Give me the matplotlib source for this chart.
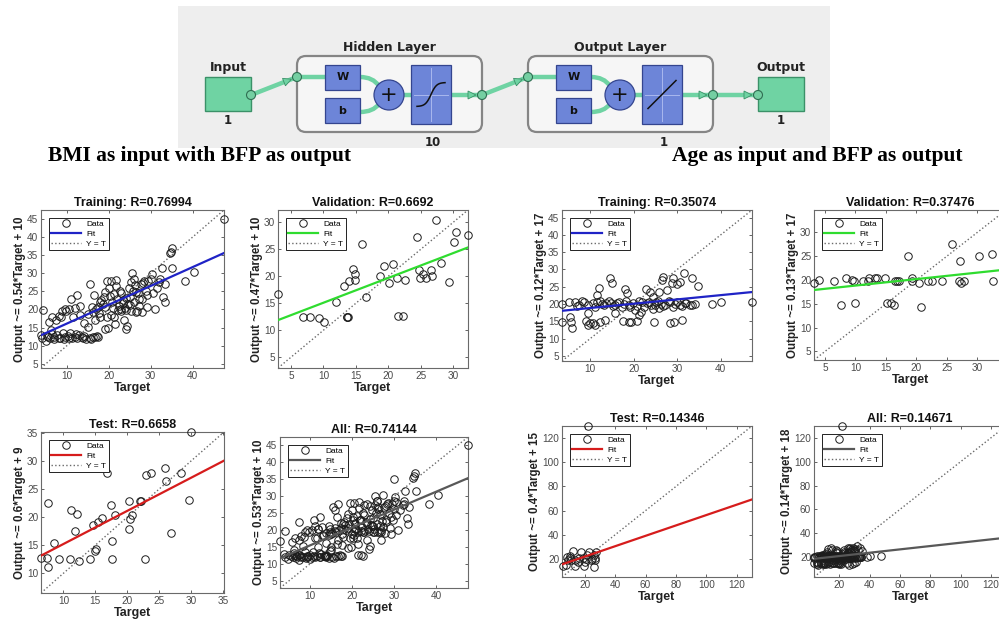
import numpy as np
import matplotlib
matplotlib.use("Agg")
import matplotlib.pyplot as plt
from matplotlib.patches import Rectangle, FancyBboxPatch, Circle, Polygon, PathPatch
from matplotlib.path import Path
from matplotlib.ticker import MultipleLocator

# ---- BMI -> BFP network ----
bmi_train_t = [47.5, 4.2, 3.9, 4.1, 5.0, 5.5, 6.0, 6.4, 6.5, 7.5, 8.0, 8.6, 8.9, 9.5, 9.8, 7.0, 8.0, 9.2, 9.0, 10.2, 10.5, 10.8, 5.8, 6.2,
               10.5, 11.0, 11.4, 12.0, 12.5, 13.0, 13.2, 11.8, 12.4, 12.8, 13.5, 14.0, 14.6, 15.4, 16.3, 17.2, 17.5,
               14.0, 15.0, 15.5, 16.0, 16.5, 17.0, 17.6, 18.0, 18.5, 18.8, 19.1, 19.5, 19.8, 19.2, 17.8, 16.8, 15.0,
               20.0, 20.5, 20.8, 21.0, 21.3, 21.5, 21.8, 22.0, 22.4, 22.8, 23.0, 23.3, 23.6, 24.0, 24.4, 24.8, 25.0, 25.2, 25.6, 26.0,
               26.0, 26.4, 26.8, 27.0, 27.3, 27.6, 28.0, 28.5, 28.8, 29.0, 29.4, 30.0, 30.3, 30.5, 21.6, 22.6, 23.8, 24.6, 25.8, 27.8,
               31.0, 31.5, 32.0, 32.3, 32.6, 33.0, 33.3, 33.5, 34.5, 34.8, 35.0, 35.2, 38.2, 40.3,
               18.2, 19.0, 20.2, 21.2, 22.2, 23.5, 24.2, 25.4, 26.2, 27.2, 28.2, 29.2, 20.6, 22.8, 24.0, 25.0, 26.6, 19.6, 17.4, 16.2,
               5.2, 6.8, 7.6, 8.4, 9.6, 11.2, 12.2, 13.8, 15.8, 16.8]
bmi_train_y = [45.0, 19.8, 12.9, 12.2, 11.4, 12.5, 12.0, 13.2, 17.8, 17.0, 18.2, 18.0, 19.5, 20.0, 19.6, 12.4, 12.2, 11.8, 13.5, 12.6, 12.2, 13.6, 16.5, 14.2,
               20.0, 23.0, 17.8, 20.5, 24.0, 21.0, 18.5, 12.4, 12.0, 13.0, 12.5, 12.6, 11.8, 12.2, 12.5, 12.6, 12.4,
               16.2, 18.8, 27.0, 20.8, 24.0, 20.0, 19.0, 18.0, 21.5, 23.5, 24.8, 28.0, 15.0, 14.7, 22.0, 17.0, 15.2,
               26.0, 28.0, 22.0, 20.5, 17.8, 16.0, 28.2, 23.0, 21.0, 19.5, 24.5, 22.5, 17.2, 14.5, 15.5, 26.0, 23.5, 19.5, 30.0, 28.5,
               22.0, 19.4, 19.6, 24.5, 21.0, 27.0, 23.0, 28.0, 25.0, 20.8, 27.8, 28.5, 29.8, 24.5, 26.5, 25.2, 20.5, 21.5, 25.2, 19.2,
               20.2, 26.0, 27.5, 28.5, 31.5, 23.5, 22.0, 27.0, 35.5, 36.0, 37.0, 31.5, 27.8, 30.3,
               22.5, 20.8, 23.8, 24.2, 19.8, 21.8, 23.2, 27.5, 26.8, 22.8, 27.2, 24.0, 18.5, 20.2, 19.8, 21.2, 24.8, 17.8, 20.6, 19.4,
               12.6, 11.8, 12.8, 12.0, 12.4, 12.0, 13.2, 12.2, 11.8, 12.4]

bmi_val_t = [3.0, 6.9, 8.0, 9.3, 10.1, 12.0, 13.2, 13.7, 13.7, 13.8, 14.0, 14.6, 14.9, 14.9, 16.0, 16.6, 18.7, 19.3,
             20.1, 20.8, 21.4, 21.5, 22.2, 22.6, 24.4, 24.8, 24.9, 25.3, 25.9, 26.6, 26.8, 27.3, 28.1, 29.3, 30.1, 30.4, 32.3]
bmi_val_y = [16.8, 12.5, 12.5, 12.2, 11.5, 15.2, 18.2, 12.5, 12.5, 12.5, 19.2, 21.3, 20.4, 19.4, 26.0, 16.1, 20.1, 22.0,
             18.8, 22.3, 19.6, 12.6, 12.7, 19.4, 27.3, 21.2, 19.6, 20.4, 19.6, 21.2, 20.1, 30.4, 22.4, 19.0, 26.3, 28.3, 27.7]

bmi_test_t = [6.5, 7.4, 7.6, 7.6, 8.5, 9.3, 11.0, 11.2, 11.8, 12.1, 12.5, 14.1, 14.7, 14.9, 15.1, 15.4, 16.0, 16.8, 17.5,
              17.6, 17.6, 18.1, 20.3, 20.3, 20.4, 20.8, 22.0, 22.2, 22.7, 22.9, 23.7, 25.9, 26.1, 26.8, 28.4, 29.7, 29.9]
bmi_test_y = [12.7, 12.7, 11.2, 22.4, 15.4, 12.5, 12.5, 21.3, 17.6, 20.5, 12.1, 12.5, 18.5, 14.0, 14.3, 19.1, 19.9, 27.8, 22.2,
              15.8, 12.5, 20.3, 22.9, 17.8, 19.7, 20.3, 22.9, 22.9, 12.5, 27.5, 27.8, 28.7, 26.4, 17.2, 27.8, 23.1, 35.1]

# ---- Age -> BFP network ----
age_train_t = [6.6, 7.5, 8.5, 9.4, 10.6, 11.5, 12.7, 13.7, 14.7, 15.7, 16.7, 17.8, 18.8, 19.9, 20.8, 21.8, 23.0, 23.9,
               25.1, 26.2, 27.2, 28.3, 29.5, 30.6, 31.8, 32.9,
               7.0, 8.0, 11.0, 12.2, 13.2, 14.2, 15.2, 16.2, 17.2, 18.2, 19.2, 20.4, 21.2, 22.4, 23.4, 24.4, 25.6, 26.8,
               28.0, 29.0, 30.0, 31.0, 32.0, 33.5,
               3.5, 3.5, 5.0, 5.3, 5.8, 5.6, 9.4, 9.1, 9.4, 10.0, 10.6, 11.1, 12.3, 13.4, 11.5, 12.1, 14.6, 15.0, 15.7, 17.5,
               18.0, 18.4, 19.0, 19.3, 20.7, 21.1, 21.6, 22.8, 23.7, 24.4, 24.7, 25.9, 26.6, 26.8, 27.6, 28.3, 28.7, 29.1,
               29.3, 29.9, 30.6, 31.2, 31.5, 33.3, 34.8, 34.1, 25.9, 24.9, 37.9, 40.0, 47.2]
age_train_y = [20.6, 19.8, 20.5, 19.6, 20.4, 20.7, 19.9, 20.4, 20.2, 19.6, 20.6, 20.0, 19.8, 20.4, 19.4, 20.6, 20.2, 19.6,
               20.6, 20.1, 19.7, 20.5, 20.0, 19.6, 20.3, 19.8,
               19.5, 20.8, 19.2, 20.9, 19.6, 20.8, 19.3, 20.3, 19.0, 20.8, 19.2, 18.4, 20.9, 19.1, 20.7, 18.6, 20.9, 19.3,
               20.8, 19.0, 20.7, 19.4, 20.3, 19.6,
               20.0, 14.9, 20.7, 16.2, 13.0, 14.7, 17.5, 15.2, 14.0, 14.4, 14.6, 14.0, 14.9, 15.4, 22.6, 24.6, 27.5, 26.2, 17.4, 15.2,
               24.3, 23.3, 14.7, 14.7, 15.2, 16.9, 17.8, 24.3, 23.6, 22.0, 14.7, 23.6, 27.0, 27.7, 24.1, 14.5, 26.2, 27.5,
               14.7, 25.8, 26.5, 15.4, 28.9, 27.5, 25.1, 20.0, 18.8, 19.8, 20.0, 20.7, 20.7]

age_val_t = [3.2, 4.0, 6.5, 7.7, 8.4, 9.4, 9.7, 9.9, 11.3, 12.0, 12.3, 13.2, 13.5, 14.8, 15.1, 15.9, 16.3, 16.5, 16.8,
             17.1, 18.6, 19.2, 19.2, 20.4, 20.8, 21.9, 22.6, 24.2, 25.8, 27.0, 27.1, 27.3, 27.8, 30.2, 32.4, 32.6, 34.5]
age_val_y = [19.4, 20.0, 19.8, 14.8, 20.5, 20.0, 19.7, 15.2, 19.7, 19.7, 20.5, 20.5, 20.5, 20.5, 15.2, 15.2, 14.8, 19.7, 19.7,
             19.8, 25.1, 20.4, 19.8, 19.4, 14.3, 19.8, 19.8, 19.8, 27.6, 19.8, 23.9, 19.4, 19.8, 25.1, 25.5, 19.8, 20.0]

age_test_t = [22.0, 5.5, 7.6, 9.0, 10.0, 11.0, 12.2, 13.3, 13.7, 15.4, 17.5, 18.5, 19.6, 20.0, 20.8, 21.7, 22.9, 23.8,
              24.8, 25.9, 26.3, 26.7, 27.0, 27.6, 8.6, 10.5, 16.4]
age_test_y = [130.0, 14.5, 15.0, 19.4, 20.6, 19.4, 26.9, 19.4, 14.0, 17.2, 25.6, 20.6, 14.4, 17.2, 20.0, 22.8, 25.6, 19.4,
              20.0, 23.3, 13.0, 20.6, 19.4, 25.6, 21.4, 22.2, 21.1]

# fitted lines (slope, intercept) as drawn
fit_slope = [0.52, 0.46, 0.59, 0.53, 0.124, 0.136, 0.43, 0.14]
fit_icpt = [10.9, 10.5, 9.3, 10.2, 17.6, 17.47, 13.3, 18.0]
titles = ["Training: R=0.76994", "Validation: R=0.6692", "Test: R=0.6658", "All: R=0.74144",
          "Training: R=0.35074", "Validation: R=0.37476", "Test: R=0.14346", "All: R=0.14671"]
ylabels = ["Output ~= 0.54*Target + 10", "Output ~= 0.47*Target + 10", "Output ~= 0.6*Target + 9",
           "Output ~= 0.53*Target + 10", "Output ~= 0.12*Target + 17", "Output ~= 0.13*Target + 17",
           "Output ~= 0.4*Target + 15", "Output ~= 0.14*Target + 18"]

W, H = 999, 623
fig = plt.figure(figsize=(9.99, 6.23), dpi=100)
fig.patch.set_facecolor("white")
plt.rcParams["font.family"] = ["Liberation Sans", "DejaVu Sans"]

# full-figure axes in pixel units for the network diagram and headings
ax0 = fig.add_axes([0, 0, 1, 1])
ax0.set_xlim(0, W)
ax0.set_ylim(H, 0)
ax0.axis("off")

green = "#6fd3a3"
green_dk = "#3b9168"
blue = "#6d85d8"
blue_dk = "#34458f"


def node(x, y):
    ax0.add_patch(Circle((x, y), 4.5, fc="#74cfa2", ec="#2f6e52", lw=0.8, zorder=6))


def arrow_head(x, y, ang):
    a = np.deg2rad(ang)
    pts = np.array([[0, -4], [8, 0], [0, 4]], float)
    rot = np.array([[np.cos(a), -np.sin(a)], [np.sin(a), np.cos(a)]])
    pts = pts @ rot.T + [x, y]
    ax0.add_patch(Polygon(pts, closed=True, fc=green, ec=green_dk, lw=0.6, zorder=5))


def link(x1, y1, x2, y2, head=True):
    ax0.plot([x1, x2], [y1, y2], color=green, lw=3.2, solid_capstyle="butt", zorder=4)
    if head:
        ang = np.degrees(np.arctan2(y2 - y1, x2 - x1))
        d = np.hypot(x2 - x1, y2 - y1)
        f = (d - 14) / d
        arrow_head(x1 + f * (x2 - x1), y1 + f * (y2 - y1), ang)


def curve(p0, p1, p2):
    path = Path([p0, p1, p2], [Path.MOVETO, Path.CURVE3, Path.CURVE3])
    ax0.add_patch(PathPatch(path, fc="none", ec=green, lw=3.2, zorder=4))


def layer(x0, name, units, kind):
    ax0.add_patch(FancyBboxPatch((x0, 56), 185, 76, boxstyle="round,pad=0,rounding_size=9",
                                 fc="#f6f6f6", ec="#858585", lw=1.6, zorder=2))
    ax0.text(x0 + 92, 47, name, ha="center", va="center", fontsize=9, fontweight="bold",
             family="DejaVu Sans", color="#222222")
    link(x0, 77, x0 + 28, 77, head=False)
    curve((x0 + 63, 77), (x0 + 76, 77), (x0 + 82, 86))
    curve((x0 + 63, 112), (x0 + 76, 112), (x0 + 82, 104))
    for yb, lab in [(65, "W"), (98, "b")]:
        ax0.add_patch(Rectangle((x0 + 28, yb), 35, 25, fc=blue, ec=blue_dk, lw=0.9, zorder=5))
        ax0.text(x0 + 45.5, yb + 12.5, lab, ha="center", va="center", fontsize=8, fontweight="bold",
                 family="DejaVu Sans", color="#111111", zorder=6)
    ax0.add_patch(Circle((x0 + 92, 95), 15, fc=blue, ec=blue_dk, lw=0.9, zorder=5))
    ax0.text(x0 + 92, 95, "+", ha="center", va="center", fontsize=15, family="DejaVu Sans",
             color="#111111", zorder=6)
    link(x0 + 107, 95, x0 + 114, 95, head=False)
    ax0.add_patch(Rectangle((x0 + 114, 65), 40, 59, fc=blue, ec=blue_dk, lw=0.9, zorder=5))
    cx, cy = x0 + 134, 94.5
    ax0.plot([cx, cx], [68, 121], color="#a9b8ee", lw=0.7, zorder=6)
    ax0.plot([x0 + 117, x0 + 151], [cy, cy], color="#a9b8ee", lw=0.7, zorder=6)
    if kind == "tansig":
        s = np.linspace(-1, 1, 60)
        ax0.plot(cx + 14 * s, cy - 12 * np.tanh(2.5 * s), color="#111111", lw=1.1, zorder=7)
    else:
        ax0.plot([cx - 14, cx + 14], [cy + 14, cy - 14], color="#111111", lw=1.1, zorder=7)
    link(x0 + 154, 95, x0 + 185, 95)
    node(x0, 77)
    node(x0 + 185, 95)
    ax0.text(cx + 2, 143, units, ha="center", va="center", fontsize=8.5, fontweight="bold",
             family="DejaVu Sans", color="#222222")


ax0.add_patch(Rectangle((178, 6), 652, 142, fc="#eeeeee", ec="none", zorder=1))
# input block
ax0.add_patch(Rectangle((205, 77), 46, 34, fc=green, ec=green_dk, lw=1.0, zorder=3))
ax0.text(228, 68, "Input", ha="center", va="center", fontsize=9, fontweight="bold", family="DejaVu Sans", color="#222222")
ax0.text(228, 121, "1", ha="center", va="center", fontsize=8.5, fontweight="bold", family="DejaVu Sans", color="#222222")
link(251, 95, 297, 77)
node(251, 95)
layer(297, "Hidden Layer", "10", "tansig")
link(482, 95, 528, 77)
layer(528, "Output Layer", "1", "purelin")
# output block
link(713, 95, 758, 95)
node(758, 95)
ax0.add_patch(Rectangle((758, 77), 46, 34, fc=green, ec=green_dk, lw=1.0, zorder=3))
ax0.text(781, 68, "Output", ha="center", va="center", fontsize=9, fontweight="bold", family="DejaVu Sans", color="#222222")
ax0.text(781, 121, "1", ha="center", va="center", fontsize=8.5, fontweight="bold", family="DejaVu Sans", color="#222222")

ax0.text(48, 156, "BMI as input with BFP as output", ha="left", va="center", fontsize=15.5,
         fontweight="bold", family="Liberation Serif", color="black")
ax0.text(672, 156, "Age as input and BFP as output", ha="left", va="center", fontsize=15.5,
         fontweight="bold", family="Liberation Serif", color="black")


def px_axes(l, t, r, b):
    return fig.add_axes([l / W, 1 - b / H, (r - l) / W, (b - t) / H])


def panel(ax, i, t, y, lim, xstep, ystep, color):
    t = np.asarray(t)
    y = np.asarray(y)
    lo, hi = lim
    ax.plot(t, y, "o", mfc="none", mec="#1c1c1c", ms=5.4, mew=0.7, clip_on=False, zorder=3, label="Data")
    xs = np.array([lo, hi])
    ax.plot(xs, fit_slope[i] * xs + fit_icpt[i], color=color, lw=1.6, zorder=4, label="Fit")
    ax.plot(xs, xs, ":", color="#6a6a6a", lw=1.0, zorder=2, label="Y = T")
    ax.set_xlim(lo, hi)
    ax.set_ylim(lo, hi)
    ax.xaxis.set_major_locator(MultipleLocator(xstep))
    ax.yaxis.set_major_locator(MultipleLocator(ystep))
    ax.tick_params(direction="in", length=2.5, width=0.6, labelsize=7.2, colors="#4a4a4a",
                   top=True, right=True, pad=2)
    for sp in ax.spines.values():
        sp.set_color("#6a6a6a")
        sp.set_linewidth(0.8)
    ax.set_title(titles[i], fontsize=9, fontweight="bold", pad=3, color="#111111")
    ax.set_xlabel("Target", fontsize=9, fontweight="bold", labelpad=1, color="#222222")
    ax.set_ylabel(ylabels[i], fontsize=8.3, fontweight="bold", labelpad=1, color="#222222")
    leg = ax.legend(loc="upper left", fontsize=6, handlelength=3.6, handletextpad=0.6,
                    borderpad=0.3, labelspacing=0.25, borderaxespad=0.9, numpoints=1,
                    fancybox=False, framealpha=1)
    leg.get_frame().set_edgecolor("#222222")
    leg.get_frame().set_linewidth(0.7)


blue_fit = "#1f23c6"
green_fit = "#2fdc2f"
red_fit = "#d61c1c"
grey_fit = "#585858"

bmi_all_t = bmi_train_t + bmi_val_t + bmi_test_t
bmi_all_y = bmi_train_y + bmi_val_y + bmi_test_y
age_all_t = age_train_t + age_val_t + age_test_t
age_all_y = age_train_y + age_val_y + age_test_y

panel(px_axes(41, 210, 224, 368), 0, bmi_train_t, bmi_train_y, (3.8, 47.5), 10, 5, blue_fit)
panel(px_axes(278, 210, 468, 368), 1, bmi_val_t, bmi_val_y, (3.0, 32.3), 5, 5, green_fit)
panel(px_axes(41, 432, 224, 593), 2, bmi_test_t, bmi_test_y, (6.5, 35.1), 5, 5, red_fit)
panel(px_axes(280, 437, 468, 588), 3, bmi_all_t, bmi_all_y, (3.0, 47.5), 10, 5, grey_fit)
panel(px_axes(562, 210, 752, 361), 4, age_train_t, age_train_y, (3.5, 47.2), 10, 5, blue_fit)
panel(px_axes(814, 210, 1006, 360), 5, age_val_t, age_val_y, (3.2, 34.7), 5, 5, green_fit)
panel(px_axes(562, 426, 752, 577), 6, age_test_t, age_test_y, (5.0, 130), 20, 20, red_fit)
panel(px_axes(814, 426, 1006, 577), 7, age_all_t, age_all_y, (3.2, 130), 20, 20, grey_fit)

fig.savefig("out.png", dpi=100)
